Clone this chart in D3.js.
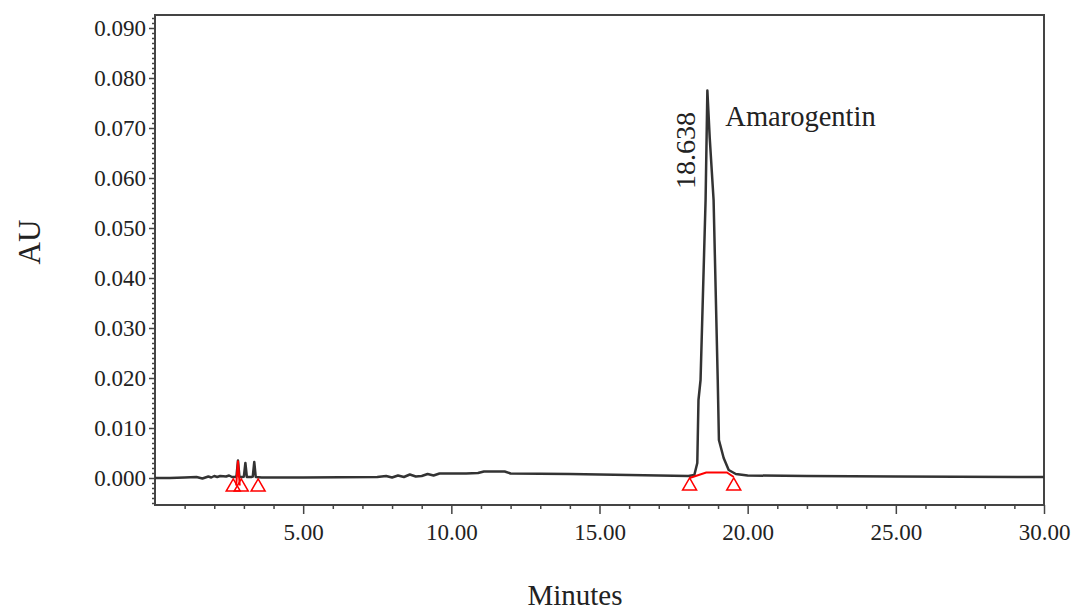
<!DOCTYPE html>
<html>
<head>
<meta charset="utf-8">
<script src="https://cdn.jsdelivr.net/npm/d3@7"></script>
<style>
  html, body { margin: 0; padding: 0; background: #fff; }
  svg { display: block; }
  text { font-family: "Liberation Serif", "Times New Roman", serif; fill: #222; }
</style>
</head>
<body>
<svg id="chart" width="1078" height="611"></svg>
<script>
// ---- data ----
const xDomain = [0, 30];
const yDomain = [-0.0054, 0.0926];
const xTickValues = [5, 10, 15, 20, 25, 30];
const xTickLabels = ["5.00", "10.00", "15.00", "20.00", "25.00", "30.00"];
const yTickValues = [0, 0.01, 0.02, 0.03, 0.04, 0.05, 0.06, 0.07, 0.08, 0.09];
const yTickLabels = ["0.000", "0.010", "0.020", "0.030", "0.040", "0.050", "0.060", "0.070", "0.080", "0.090"];

// chromatogram trace (minutes, AU)
const traceTime = [0, 0.5, 1.0, 1.4, 1.6, 1.8, 1.9, 2.0, 2.1, 2.2, 2.4, 2.5, 2.6, 2.7, 2.75, 2.8, 2.85, 2.95, 3.0, 3.05, 3.1, 3.25, 3.3, 3.35, 3.4, 3.6, 5.0, 7.5, 7.8, 8.0, 8.2, 8.4, 8.6, 8.8, 9.0, 9.2, 9.4, 9.6, 10.5, 10.9, 11.1, 11.8, 12.0, 14.0, 17.0, 18.0, 18.2, 18.3, 18.34, 18.41, 18.58, 18.64, 18.72, 18.85, 18.99, 19.03, 19.19, 19.36, 19.6, 20.0, 22.0, 25.0, 30.0];
const traceAU   = [0, 0, 0.0001, 0.0002, -0.0001, 0.0003, 0.0001, 0.0004, 0.0002, 0.0004, 0.0003, 0.0005, 0.0002, 0.0002, 0.0004, 0.0035, 0.0002, 0.0002, 0.0003, 0.003, 0.0002, 0.0002, 0.0003, 0.0032, 0.0002, 0.0001, 0.0001, 0.0002, 0.0004, 0.0001, 0.0005, 0.0002, 0.0007, 0.0003, 0.0004, 0.0008, 0.0005, 0.0009, 0.0009, 0.0010, 0.0013, 0.0013, 0.0009, 0.0008, 0.0005, 0.0004, 0.0006, 0.0030, 0.0156, 0.0196, 0.0556, 0.0775, 0.0680, 0.0556, 0.0196, 0.0076, 0.0040, 0.0016, 0.0008, 0.0005, 0.0004, 0.0003, 0.0002];

// integrated small peak drawn in red
const redPeakTime = [2.74, 2.8, 2.86];
const redPeakAU = [-0.0015, 0.0035, -0.0015];

// integration baseline of the main peak (red)
const baseTime = [18.04, 18.6, 19.3, 19.53];
const baseAU = [0.0, 0.0011, 0.0011, 0.0002];

// peak start/end markers (red triangles)
const markerTime = [2.64, 2.91, 3.48, 18.04, 19.53];
const markerAU = [-0.0018, -0.0018, -0.0018, -0.0016, -0.0016];

const peakRT = 18.638;
const peakAU = 0.0775;
const peakRTLabel = "18.638";
const peakName = "Amarogentin";

// ---- drawing ----
const svg = d3.select("#chart");
const mLeft = 155, mRight = 1044, mTop = 15, mBottom = 505;
const x = d3.scaleLinear().domain(xDomain).range([mLeft, mRight]);
const y = d3.scaleLinear().domain(yDomain).range([mBottom, mTop]);

// frame
svg.append("rect").attr("x", mLeft).attr("y", mTop).attr("width", mRight - mLeft).attr("height", mBottom - mTop)
  .attr("fill", "none").attr("stroke", "#444").attr("stroke-width", 2);

// x axis minor ticks
const xMinor = d3.range(1, 31).filter(v => v % 5 !== 0);
const xMinorAxis = d3.axisBottom(x).tickValues(xMinor).tickSize(4).tickFormat("");
svg.append("g").attr("transform", `translate(0,${mBottom})`).call(xMinorAxis)
  .call(g => g.select(".domain").remove())
  .call(g => g.selectAll("line").attr("stroke", "#444").attr("stroke-width", 1.5));
const xAxis = d3.axisBottom(x).tickValues(xTickValues).tickSize(9).tickPadding(10)
  .tickFormat((d, i) => xTickLabels[i]);
svg.append("g").attr("transform", `translate(0,${mBottom})`).call(xAxis)
  .call(g => g.select(".domain").remove())
  .call(g => g.selectAll("line").attr("stroke", "#444").attr("stroke-width", 1.5))
  .call(g => g.selectAll("text").attr("font-family", "Liberation Serif").attr("font-size", 23)
      .attr("fill", "#222"));

// y axis minor ticks
const yMinor = d3.range(-5, 93).map(v => v / 1000).filter(v => Math.round(v * 1000) % 10 !== 0);
const yMinorAxis = d3.axisLeft(y).tickValues(yMinor).tickSize(3).tickFormat("");
svg.append("g").attr("transform", `translate(${mLeft},0)`).call(yMinorAxis)
  .call(g => g.select(".domain").remove())
  .call(g => g.selectAll("line").attr("stroke", "#444").attr("stroke-width", 1.5));
const yAxis = d3.axisLeft(y).tickValues(yTickValues).tickSize(6).tickPadding(3)
  .tickFormat((d, i) => yTickLabels[i]);
svg.append("g").attr("transform", `translate(${mLeft},0)`).call(yAxis)
  .call(g => g.select(".domain").remove())
  .call(g => g.selectAll("line").attr("stroke", "#444").attr("stroke-width", 1.5))
  .call(g => g.selectAll("text").attr("font-family", "Liberation Serif").attr("font-size", 23).attr("fill", "#222"));

// trace
const line = d3.line().x(d => x(d[0])).y(d => y(d[1]));
const trace = traceTime.map((t, i) => [t, traceAU[i]]);
svg.append("path").datum(trace).attr("d", line)
  .attr("fill", "none").attr("stroke", "#333").attr("stroke-width", 2.5).attr("stroke-linejoin", "round");

// red small peak
svg.append("path").datum(redPeakTime.map((t, i) => [t, redPeakAU[i]])).attr("d", line)
  .attr("fill", "none").attr("stroke", "#f00").attr("stroke-width", 2);

// red integration baseline
svg.append("path").datum(baseTime.map((t, i) => [t, baseAU[i]])).attr("d", line)
  .attr("fill", "none").attr("stroke", "#f00").attr("stroke-width", 2);

// triangles
const tri = d3.symbol().type(d3.symbolTriangle).size(85);
svg.append("g").selectAll("path").data(markerTime.map((t, i) => [t, markerAU[i]])).join("path")
  .attr("d", tri).attr("transform", d => `translate(${x(d[0])},${y(d[1])})`)
  .attr("fill", "none").attr("stroke", "#f00").attr("stroke-width", 1.5);

// peak labels
svg.append("text").attr("transform", `translate(${x(peakRT) - 12},${y(peakAU) + 60}) rotate(-90)`)
  .attr("text-anchor", "middle").attr("font-size", 28).text(peakRTLabel);
svg.append("text").attr("x", x(peakRT) + 18).attr("y", y(peakAU) + 35)
  .attr("font-size", 28.5).text(peakName);

// axis titles
svg.append("text").attr("transform", `translate(40,${(mTop + mBottom) / 2 - 18}) rotate(-90)`)
  .attr("text-anchor", "middle").attr("font-size", 31).text("AU");
svg.append("text").attr("x", 575).attr("y", 605).attr("text-anchor", "middle")
  .attr("font-size", 29).text("Minutes");
</script>
</body>
</html>
